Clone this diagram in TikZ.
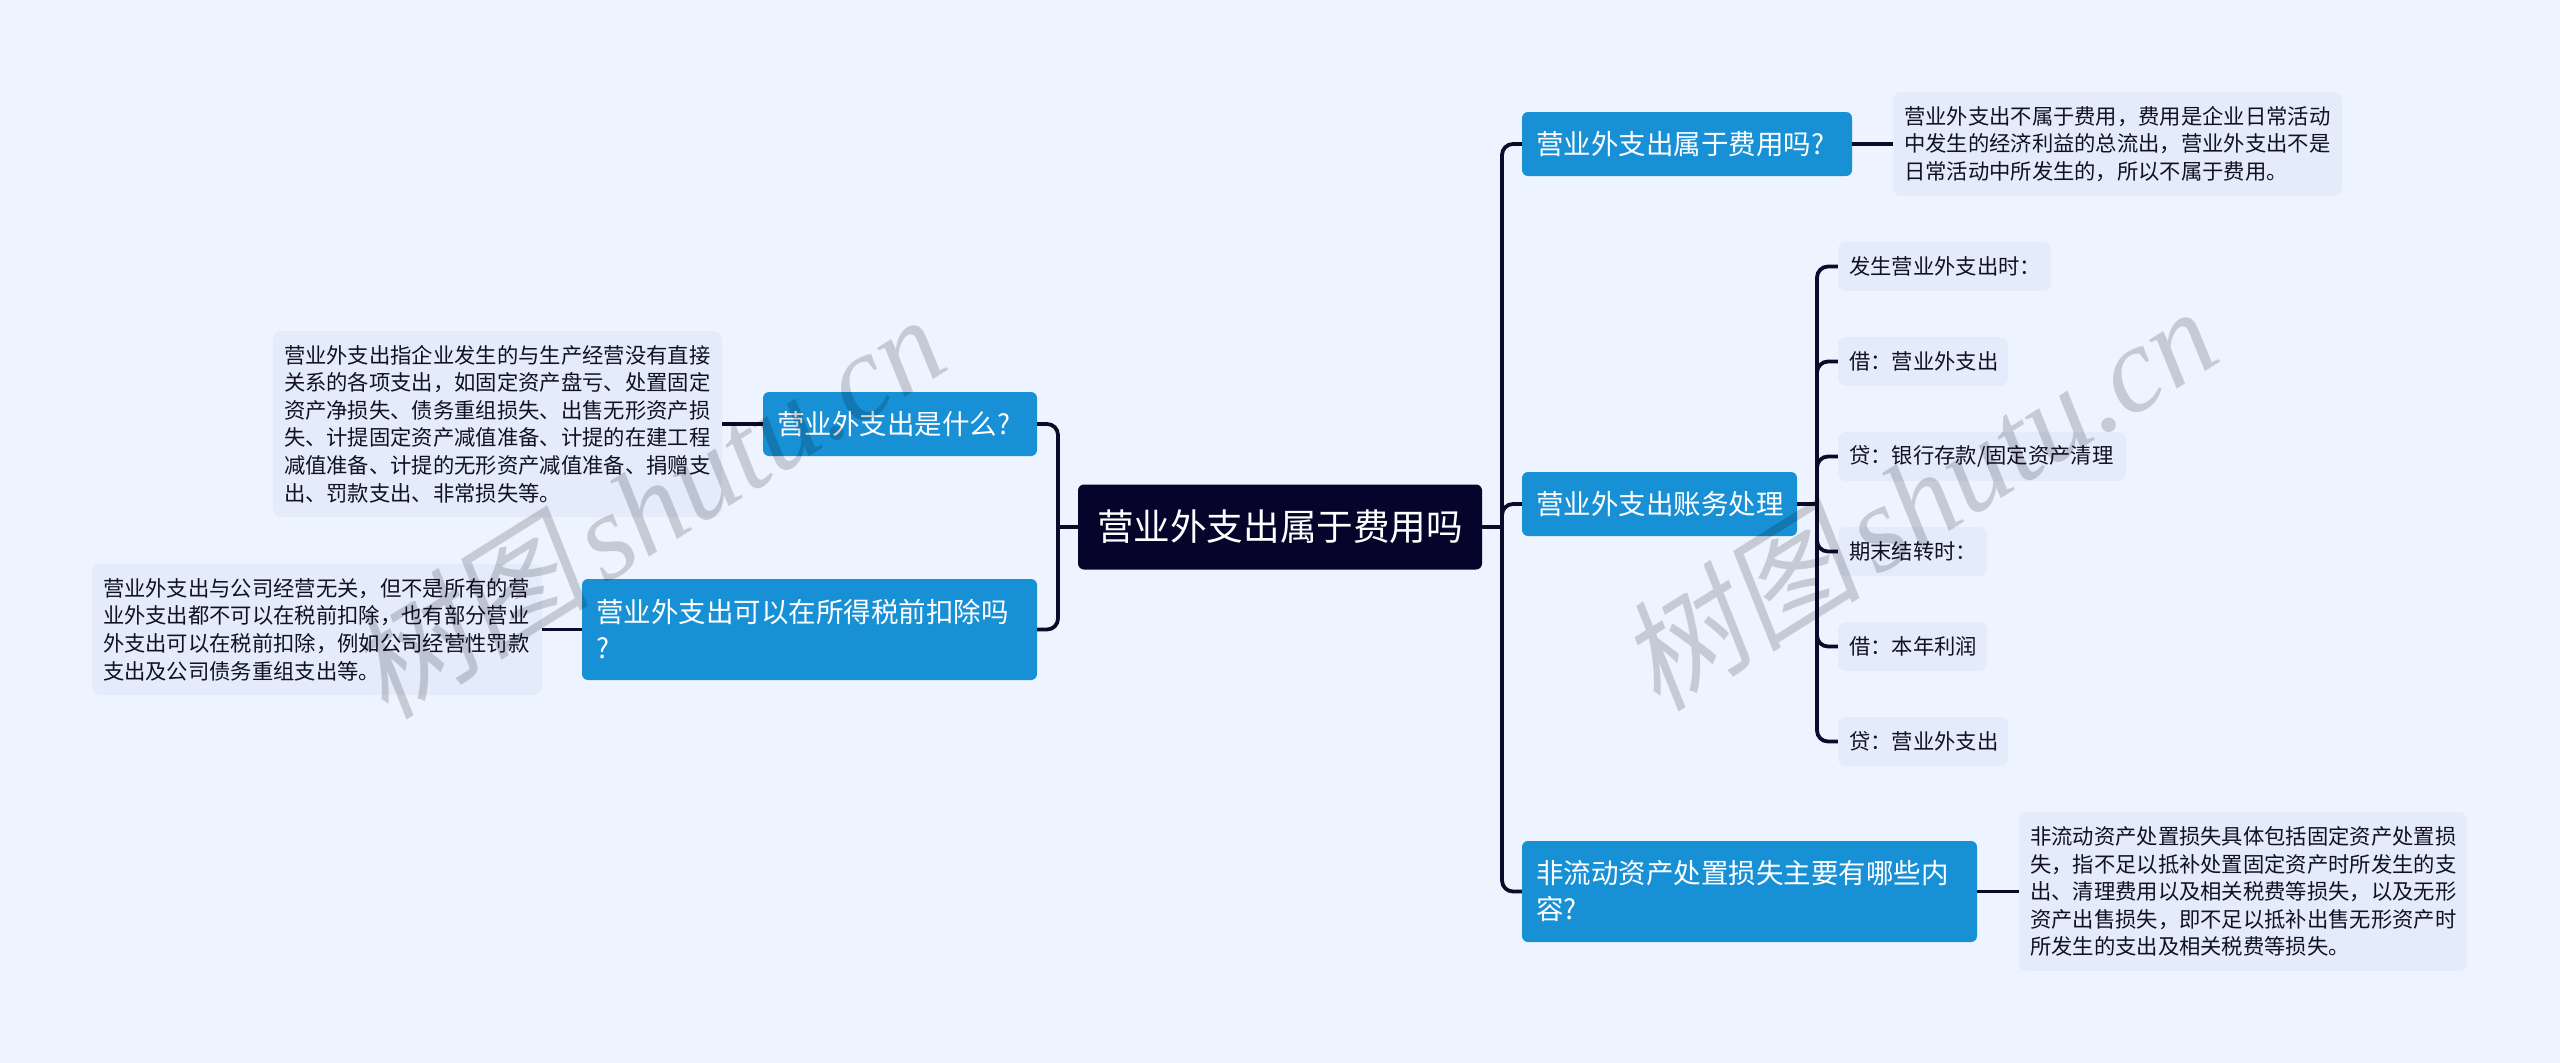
\documentclass[tikz,border=0pt]{standalone}
\usepackage{fontspec}
\setmainfont{Noto Sans CJK SC}
\newfontfamily\wmcjk[FakeSlant=0.18]{Noto Sans CJK SC}
\newfontfamily\wmlat{Liberation Serif}
\definecolor{bgc}{HTML}{EEF4FF}
\definecolor{notec}{HTML}{E4ECFC}
\definecolor{bluec}{HTML}{1890D5}
\definecolor{rootc}{HTML}{06042A}
\definecolor{linec}{HTML}{0A0A2A}
\definecolor{textc}{HTML}{111122}
\tikzset{
  x=1pt,y=-1pt,
  rootbox/.style={fill=rootc,text=white,rounded corners=6pt,inner sep=0pt,align=center,minimum width=#1pt,minimum height=85pt,font=\fontsize{36.6}{44}\selectfont},
  bluebox/.style={fill=bluec,text=white,rounded corners=6pt,inner ysep=0pt,inner xsep=14pt,align=left,text width=#1pt-28pt,minimum width=#1pt,font=\fontsize{27.5}{36}\selectfont},
  notebox/.style={fill=notec,text=textc,rounded corners=8pt,inner ysep=0pt,inner xsep=11pt,align=left,text width=#1pt-22pt,minimum width=#1pt,font=\fontsize{21.33}{27.6}\selectfont},
  conn/.style={draw=linec,line width=3.8pt},
  elbow/.style={conn,rounded corners=11pt},
  wmark/.style={rotate=32,text=black,text opacity=0.17,inner sep=0pt},
}
\begin{document}
\begin{tikzpicture}
\useasboundingbox (0,0) rectangle (2560,1063);
\fill[bgc] (0,0) rectangle (2560,1063);
\coordinate (sr) at (1502,527);
\coordinate (sl) at (1058,527);
\coordinate (bus) at (1817,504);
% connectors are drawn after the nodes are named
\node[rootbox=404] (root) at (1280,527) {营业外支出属于费用吗};
\node[bluebox=330,minimum height=64pt] (b1) at (1687,144) {营业外支出属于费用吗?};
\node[bluebox=275,minimum height=64pt] (b2) at (1659.5,504) {营业外支出账务处理};
\node[bluebox=455,minimum height=101pt] (b3) at (1749.5,891.5) {非流动资产处置损失主要有哪些内\\容?};
\node[bluebox=274,minimum height=64pt] (ba) at (900,424) {营业外支出是什么?};
\node[bluebox=455,minimum height=101pt] (bb) at (809.5,629.5) {营业外支出可以在所得税前扣除吗\\?};
\node[notebox=449,minimum height=104pt] (n1) at (2117.5,144) {营业外支出不属于费用，费用是企业日常活动\\中发生的经济利益的总流出，营业外支出不是\\日常活动中所发生的，所以不属于费用。};
\node[notebox=448,minimum height=159pt] (n3) at (2243,891.5) {非流动资产处置损失具体包括固定资产处置损\\失，指不足以抵补处置固定资产时所发生的支\\出、清理费用以及相关税费等损失，以及无形\\资产出售损失，即不足以抵补出售无形资产时\\所发生的支出及相关税费等损失。};
\node[notebox=449,minimum height=186pt] (na) at (497.5,424) {营业外支出指企业发生的与生产经营没有直接\\关系的各项支出，如固定资产盘亏、处置固定\\资产净损失、债务重组损失、出售无形资产损\\失、计提固定资产减值准备、计提的在建工程\\减值准备、计提的无形资产减值准备、捐赠支\\出、罚款支出、非常损失等。};
\node[notebox=450,minimum height=131pt] (nb) at (317,629.5) {营业外支出与公司经营无关，但不是所有的营\\业外支出都不可以在税前扣除，也有部分营业\\外支出可以在税前扣除，例如公司经营性罚款\\支出及公司债务重组支出等。};
\node[notebox=213,minimum height=49pt] (i1) at (1944.5,266.5) {发生营业外支出时：};
\node[notebox=170,minimum height=49pt] (i2) at (1923,361.5) {借：营业外支出};
\node[notebox=288,minimum height=49pt] (i3) at (1982,456.5) {贷：银行存款/固定资产清理};
\node[notebox=149,minimum height=49pt] (i4) at (1912.5,551.5) {期末结转时：};
\node[notebox=149,minimum height=49pt] (i5) at (1912.5,646.5) {借：本年利润};
\node[notebox=170,minimum height=49pt] (i6) at (1923,741.5) {贷：营业外支出};
% connectors
\draw[conn] (root.east) -- (sr);
\draw[conn] (root.west) -- (sl);
\draw[elbow] (b1.west) -- (sr|-b1.west) -- (sr);
\draw[elbow] (b2.west) -- (sr|-b2.west) -- (sr);
\draw[elbow] (b3.west) -- (sr|-b3.west) -- (sr);
\draw[elbow] (ba.east) -- (sl|-ba.east) -- (sl);
\draw[elbow] (bb.east) -- (sl|-bb.east) -- (sl);
\draw[conn] (b1.east) -- (n1.west);
\draw[conn] (b3.east) -- (n3.west);
\draw[conn] (ba.west) -- (na.east);
\draw[conn] (bb.west) -- (nb.east);
\draw[conn] (b2.east) -- (bus);
\foreach \i in {i1,i2,i3,i4,i5,i6}{\draw[elbow] (\i.west) -- (bus|-\i.west) -- (bus);}
% watermarks
\node[wmark] (w1) at (645,505) {\fontsize{122}{130}\selectfont\wmcjk 树图\hspace{0.12em}\wmlat\itshape shutu.cn};
\node[wmark] (w2) at (1917,497) {\fontsize{122}{130}\selectfont\wmcjk 树图\hspace{0.12em}\wmlat\itshape shutu.cn};
\end{tikzpicture}
\end{document}
